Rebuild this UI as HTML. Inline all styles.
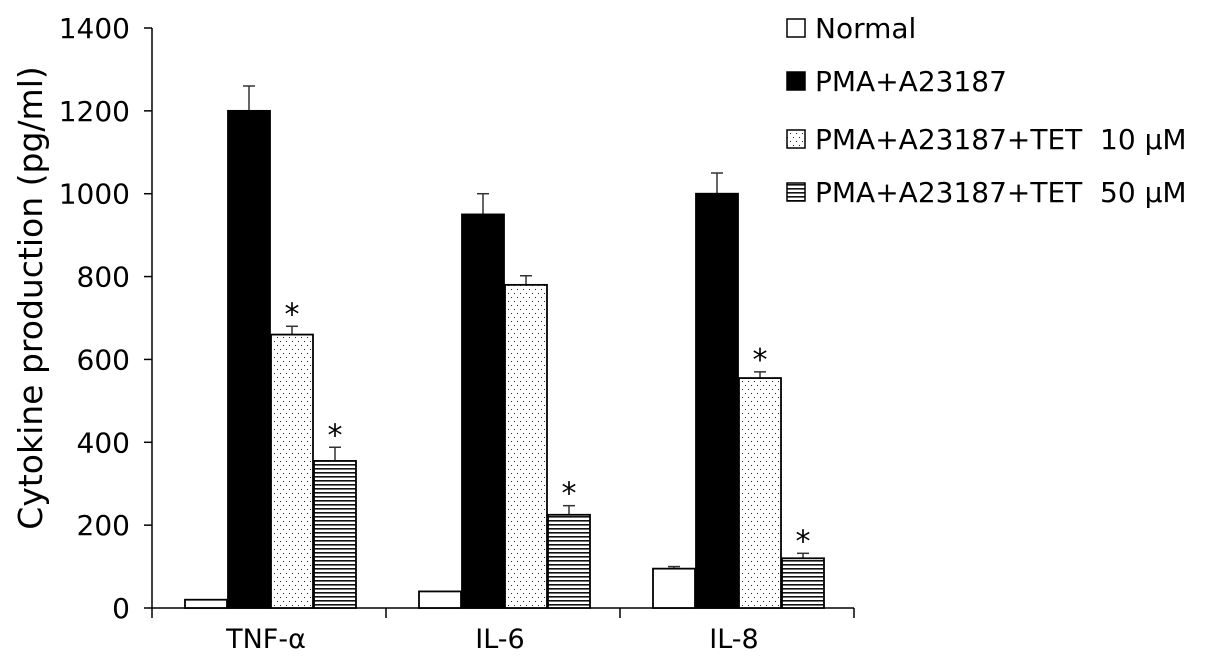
<!DOCTYPE html>
<html><head><meta charset="utf-8"><style>
html,body{margin:0;padding:0;background:#fff;}
svg{display:block;font-family:"DejaVu Sans","Liberation Sans",sans-serif;}
text{white-space:pre;}
</style></head><body>
<svg id="chart" width="1205" height="672" viewBox="0 0 1205 672" xmlns="http://www.w3.org/2000/svg">
<defs>
<pattern id="dots" width="6" height="8" patternUnits="userSpaceOnUse">
<rect width="6" height="8" fill="#fff"/>
<rect x="1" y="1" width="1" height="1" fill="#222"/>
<rect x="4" y="5" width="1" height="1" fill="#222"/>
</pattern>
<pattern id="stripes" width="4" height="4" patternUnits="userSpaceOnUse">
<rect width="4" height="4" fill="#fff"/>
<rect y="0" width="4" height="1.6" fill="#111"/>
</pattern>
</defs>
<g id="axes"></g>
<g id="bars"></g>
<g id="legend"></g>
</svg>
<script>
const categories = ["TNF-\u03b1", "IL-6", "IL-8"];
const seriesNames = ["Normal", "PMA+A23187", "PMA+A23187+TET  10 \u03bcM", "PMA+A23187+TET  50 \u03bcM"];
const normalVals = [20, 40, 95];
const pmaVals = [1200, 950, 1000];
const tet10Vals = [660, 780, 555];
const tet50Vals = [355, 225, 120];
const normalErr = [0, 0, 5];
const pmaErr = [60, 50, 50];
const tet10Err = [20, 22, 15];
const tet50Err = [33, 22, 12];
const tet10Star = [true, false, true];
const tet50Star = [true, true, true];
const yTicks = [0, 200, 400, 600, 800, 1000, 1200, 1400];

const NS = "http://www.w3.org/2000/svg";
const y0 = 608, yTop = 28, yMax = 1400;
const y = v => y0 - v / yMax * (y0 - yTop);
const axisX = 152, groupW = 234, barW = 42;
const groupStart = i => axisX + i * groupW;
const barX = (g, s) => groupStart(g) + 33 + s * 43;
function mk(tag, attrs, parent) {
  const e = document.createElementNS(NS, tag);
  for (const k in attrs) e.setAttribute(k, attrs[k]);
  parent.appendChild(e);
  return e;
}
const axes = document.getElementById("axes");
const bars = document.getElementById("bars");
const legend = document.getElementById("legend");

const yAxis = mk("line", {x1: axisX, y1: yTop, x2: axisX, y2: y0, stroke: "#000", "stroke-width": 1.5}, axes);


const xAxis = mk("line", {x1: axisX, y1: y0, x2: groupStart(3), y2: y0, stroke: "#000", "stroke-width": 1.5}, axes);


yTicks.forEach(t => {
  mk("line", {x1: axisX - 8, y1: y(t), x2: axisX, y2: y(t), stroke: "#000", "stroke-width": 1.5}, axes);
  const tx = mk("text", {x: axisX - 22, y: y(t) + 10, "text-anchor": "end", "font-size": 28}, axes);
  tx.textContent = t;
  
  
});
for (let i = 0; i <= 3; i++) {
  mk("line", {x1: groupStart(i), y1: y0, x2: groupStart(i), y2: y0 + 10, stroke: "#000", "stroke-width": 1.5}, axes);
}
categories.forEach((c, i) => {
  const tx = mk("text", {x: groupStart(i) + groupW / 2 - 3, y: 648, "text-anchor": "middle", "font-size": 27}, axes);
  tx.textContent = c;
  
  
});
const yt = mk("text", {x: 0, y: 0, "text-anchor": "middle", "font-size": 33, transform: "translate(42,298) rotate(-90)"}, axes);
yt.textContent = "Cytokine production (pg/ml)";



const series = [normalVals, pmaVals, tet10Vals, tet50Vals];
const errs = [normalErr, pmaErr, tet10Err, tet50Err];
const fills = ["#fff", "#000", "url(#dots)", "url(#stripes)"];
const stars = [null, null, tet10Star, tet50Star];
categories.forEach((c, g) => {
  series.forEach((vals, s) => {
    const x = barX(g, s), v = vals[g], e = errs[s][g];
    if (e > 0) {
      mk("line", {x1: x + barW / 2, y1: y(v), x2: x + barW / 2, y2: y(v + e), stroke: "#333", "stroke-width": 1.5}, bars);
      mk("line", {x1: x + barW / 2 - 6, y1: y(v + e), x2: x + barW / 2 + 6, y2: y(v + e), stroke: "#333", "stroke-width": 1.5}, bars);
    }
    const r = mk("rect", {x: x, y: y(v), width: barW, height: y0 - y(v), fill: fills[s], stroke: "#000", "stroke-width": 1.8}, bars);
    
    
    if (stars[s] && stars[s][g]) {
      const st = mk("text", {x: x + barW / 2, y: y(v + e) - 2, "text-anchor": "middle", "font-size": 30}, bars);
      st.textContent = "*";
      
      
    }
  });
});

const legY = [28, 81, 139, 192];
seriesNames.forEach((n, i) => {
  const g = mk("g", {}, legend);
  
  
  mk("rect", {x: 787, y: legY[i] - 9, width: 18, height: 18, fill: fills[i], stroke: "#000", "stroke-width": 1.5}, g);
  const tx = mk("text", {x: 815, y: legY[i] + 10, "font-size": 28}, g);
  tx.textContent = n;
});
</script>
</body></html>
